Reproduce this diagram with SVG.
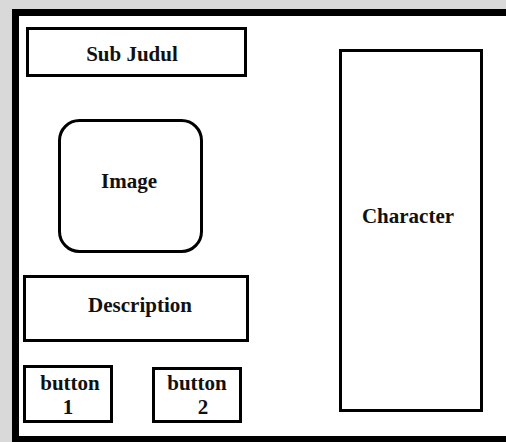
<svg xmlns="http://www.w3.org/2000/svg" width="506" height="442" viewBox="0 0 506 442">
<style>
.box{fill:#fff;stroke:#000;stroke-width:3}
.t{font-family:"Liberation Serif","Times New Roman",serif;font-weight:bold;font-size:21px;fill:#111;text-anchor:middle}
</style>
<rect x="0" y="0" width="506" height="442" fill="#d9d9d9"/>
<rect x="12" y="9" width="500" height="440" fill="#000"/>
<rect x="19" y="16" width="490" height="420" fill="#fff"/>
<g id="subjudul"><rect class="box" x="27.5" y="28.5" width="218" height="47"/><text class="t" x="132" y="61">Sub Judul</text></g>
<g id="image"><rect class="box" x="59.5" y="120.5" width="142" height="131" rx="20"/><text class="t" x="129" y="188">Image</text></g>
<g id="description"><rect class="box" x="24.5" y="276.5" width="223" height="64"/><text class="t" x="140" y="312">Description</text></g>
<g id="button1"><rect class="box" x="24.5" y="366.5" width="87" height="55"/><text class="t" x="70" y="390">button</text><text class="t" x="68" y="414">1</text></g>
<g id="button2"><rect class="box" x="153.5" y="368.5" width="87" height="53"/><text class="t" x="197" y="390">button</text><text class="t" x="203" y="414">2</text></g>
<g id="character"><rect class="box" x="340.5" y="50.5" width="141" height="360"/><text class="t" x="408" y="223">Character</text></g>
<g id="connectors"></g>
</svg>
